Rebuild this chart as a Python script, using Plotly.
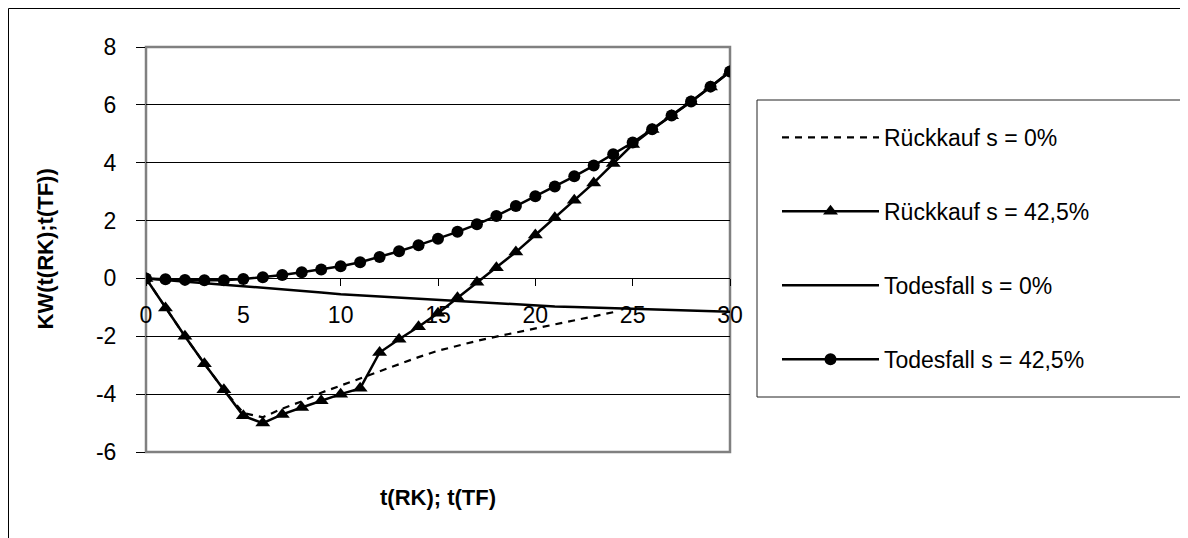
import plotly.graph_objects as go

t = list(range(0, 31))
t_rk0 = list(range(0, 25))

rk_s0 = [0, -1.0, -2.0, -2.95, -3.85, -4.65, -4.8, -4.5, -4.25, -3.95, -3.7, -3.45, -3.2,
         -2.95, -2.72, -2.5, -2.32, -2.16, -2.01, -1.87, -1.74, -1.6, -1.46, -1.32, -1.17]
rk_s425 = [0, -1.02, -2.0, -2.95, -3.85, -4.75, -5.0, -4.7, -4.46, -4.23, -4.0, -3.8, -2.56,
           -2.1, -1.67, -1.2, -0.67, -0.13, 0.37, 0.91, 1.5, 2.1, 2.7, 3.3, 3.97, 4.63, 5.15,
           5.62, 6.11, 6.62, 7.15]
tf_s0 = [0, -0.06, -0.12, -0.17, -0.22, -0.27, -0.32, -0.37, -0.43, -0.49, -0.55, -0.59, -0.63,
         -0.67, -0.71, -0.75, -0.79, -0.83, -0.87, -0.91, -0.95, -0.97, -0.99, -1.01, -1.03,
         -1.05, -1.07, -1.09, -1.11, -1.13, -1.15]
tf_s425 = [0, -0.03, -0.05, -0.06, -0.06, -0.02, 0.04, 0.12, 0.21, 0.31, 0.42, 0.56, 0.74, 0.94,
           1.15, 1.37, 1.61, 1.87, 2.16, 2.5, 2.84, 3.18, 3.53, 3.9, 4.29, 4.7, 5.16, 5.63, 6.12,
           6.63, 7.15]

names = ["Rückkauf s = 0%", "Rückkauf s = 42,5%", "Todesfall s = 0%", "Todesfall s = 42,5%"]
x_ticks = [0, 5, 10, 15, 20, 25, 30]
y_ticks = [-6, -4, -2, 0, 2, 4, 6, 8]
y_ticktext = ["-6", "-4", "-2", "0", "2", "4", "6", "8"]

FONT = "Liberation Sans, Arial, sans-serif"

fig = go.Figure()
fig.add_trace(go.Scatter(x=t_rk0, y=rk_s0, mode="lines", name=names[0], legendgroup="a",
                         line=dict(color="black", width=2.2, dash="7px,6px")))
fig.add_trace(go.Scatter(x=t, y=rk_s425, mode="lines+markers", name=names[1], legendgroup="b",
                         line=dict(color="black", width=2.5),
                         marker=dict(symbol="triangle-up", size=13, color="black")))
fig.add_trace(go.Scatter(x=t, y=tf_s0, mode="lines", name=names[2], legendgroup="c",
                         line=dict(color="black", width=2.5)))
fig.add_trace(go.Scatter(x=t, y=tf_s425, mode="lines+markers", name=names[3], legendgroup="d",
                         line=dict(color="black", width=2.5),
                         marker=dict(symbol="circle", size=12, color="black")))

# page offset of 8px (default body margin)
L, T, R, B = 146 - 8, 47 - 8, 730 - 8, 452 - 8
W, H = 1180, 530
PW, PH = R - L, B - T


def px_x(p):
    return (p - 8 - L) / PW


def px_y(p):
    return (B - (p - 8)) / PH


ymin, ymax = -6, 8
fig.update_layout(
    width=W, height=H,
    margin=dict(l=L, r=W - R, t=T, b=H - B),
    paper_bgcolor="white", plot_bgcolor="white",
    font=dict(family=FONT, color="black", size=23),
    showlegend=True,
    legend=dict(x=px_x(777), y=px_y(116), xanchor="left", yanchor="top",
                bgcolor="rgba(0,0,0,0)", borderwidth=0,
                font=dict(size=23), traceorder="grouped", tracegroupgap=41,
                itemwidth=97),
    xaxis=dict(range=[0, 30], tickvals=x_ticks, anchor="free",
               position=(0 - ymin) / (ymax - ymin), domain=[0, 1],
               showgrid=False, zeroline=False, showline=True, linecolor="black",
               linewidth=1, ticks="outside", ticklen=7, tickcolor="black",
               ticklabelstandoff=9, tickfont=dict(size=23)),
    yaxis=dict(range=[ymin, ymax], tickvals=y_ticks, ticktext=y_ticktext, domain=[0, 1],
               showgrid=True, gridcolor="black", gridwidth=1, zeroline=False,
               showline=False, ticks="outside", ticklen=9, tickcolor="black",
               ticklabelstandoff=15, tickfont=dict(size=23)),
    shapes=[
        dict(type="rect", xref="paper", yref="paper", x0=0, x1=1, y0=0, y1=1,
             line=dict(color="#808080", width=2.5), layer="between"),
        dict(type="rect", xref="paper", yref="paper",
             x0=px_x(757), x1=px_x(1185), y0=px_y(397), y1=px_y(100),
             line=dict(color="#222222", width=1), layer="below"),
        dict(type="rect", xref="paper", yref="paper",
             x0=px_x(8.5), x1=px_x(1200), y0=px_y(560), y1=px_y(8.5),
             line=dict(color="black", width=1), layer="below"),
    ],
    annotations=[
        dict(text="<b>KW(t(RK);t(TF))</b>", xref="paper", yref="paper",
             x=px_x(45), y=0.5, textangle=-90, showarrow=False,
             font=dict(size=22), xanchor="center", yanchor="middle"),
        dict(text="<b>t(RK); t(TF)</b>", xref="paper", yref="paper",
             x=0.5, y=px_y(497), showarrow=False,
             font=dict(size=22), xanchor="center", yanchor="middle"),
    ],
)

fig.write_html("out.html")
